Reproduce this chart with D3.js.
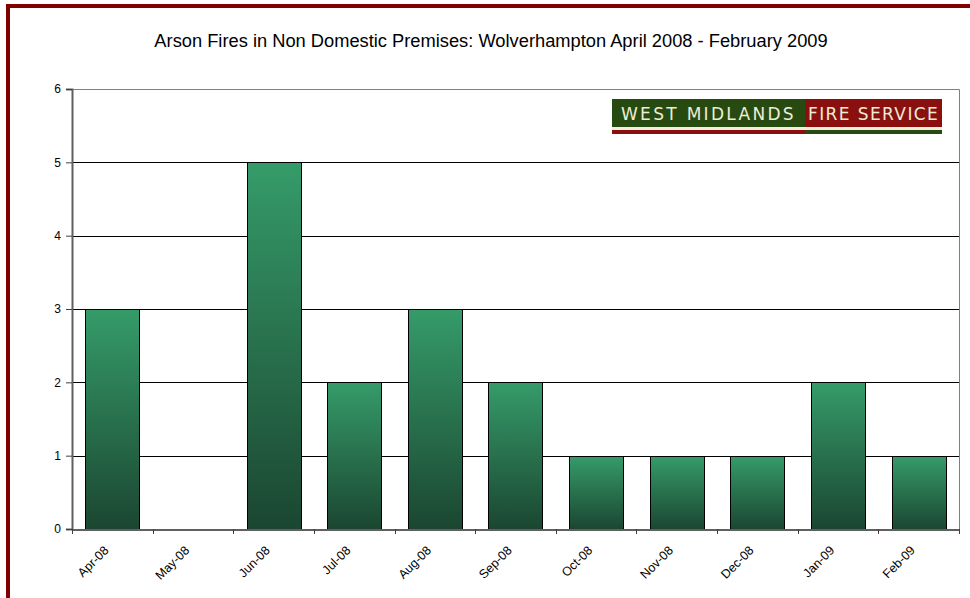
<!DOCTYPE html>
<html>
<head>
<meta charset="utf-8">
<script src="https://cdn.jsdelivr.net/npm/d3@7"></script>
<style>
  body { margin: 0; background: #fff; }
  svg text { font-family: "Liberation Sans", Arial, sans-serif; }
</style>
</head>
<body>
<div id="chart"></div>
<script>
// chart data
var months = ["Apr-08","May-08","Jun-08","Jul-08","Aug-08","Sep-08","Oct-08","Nov-08","Dec-08","Jan-09","Feb-09"];
var fires = [3, 0, 5, 2, 3, 2, 1, 1, 1, 2, 1];
var yTicks = [0, 1, 2, 3, 4, 5, 6];
var titleText = "Arson Fires in Non Domestic Premises: Wolverhampton April 2008 - February 2009";

var width = 970, height = 598;
var plotLeft = 72, plotRight = 959, plotTop = 89, plotBottom = 529;

var svg = d3.select("#chart")
  .append("svg")
  .attr("width", width)
  .attr("height", height);

// gradient for the bars
var defs = svg.append("defs");
var grad = defs.append("linearGradient")
  .attr("id", "barGrad")
  .attr("x1", 0).attr("y1", 0)
  .attr("x2", 0).attr("y2", 1);
grad.append("stop").attr("offset", "0%").attr("stop-color", "#359b69");
grad.append("stop").attr("offset", "100%").attr("stop-color", "#1b4631");

// dark red frame (only top and left show)
svg.append("rect")
  .attr("x", 8).attr("y", 6)
  .attr("width", 1200).attr("height", 1200)
  .attr("fill", "none")
  .attr("stroke", "#800000")
  .attr("stroke-width", 4);

// title
svg.append("text")
  .attr("x", 491)
  .attr("y", 47)
  .attr("text-anchor", "middle")
  .style("font-size", "18.3px")
  .style("fill", "#000")
  .text(titleText);

var x = d3.scaleBand()
  .domain(months)
  .range([plotLeft, plotRight])
  .paddingInner(0.33)
  .paddingOuter(0.165);

var y = d3.scaleLinear()
  .domain([0, 6])
  .range([plotBottom, plotTop]);

// gridlines
svg.append("g")
  .selectAll("line")
  .data(yTicks.filter(function(d) { return d > 0 && d < 6; }))
  .enter()
  .append("line")
    .attr("x1", plotLeft).attr("x2", plotRight)
    .attr("y1", function(d) { return Math.round(y(d)) + 0.5; })
    .attr("y2", function(d) { return Math.round(y(d)) + 0.5; })
    .attr("stroke", "#000")
    .attr("stroke-width", 1);

// plot border top/right
svg.append("path")
  .attr("d", "M" + plotLeft + "," + (plotTop + 0.5) + "H" + (plotRight + 0.5) + "V" + plotBottom)
  .attr("fill", "none")
  .attr("stroke", "#808080")
  .attr("stroke-width", 1);

// bars
svg.append("g")
  .selectAll("rect")
  .data(fires)
  .enter()
  .append("rect")
    .attr("x", function(d, i) { return Math.round(x(months[i])) + 0.5; })
    .attr("y", function(d) { return Math.round(y(d)) + 0.5; })
    .attr("width", Math.round(x.bandwidth()))
    .attr("height", function(d) { return Math.round(y(0)) - Math.round(y(d)); })
    .style("display", function(d) { return d === 0 ? "none" : "visible"; })
    .attr("fill", "url(#barGrad)")
    .attr("stroke", "#000")
    .attr("stroke-width", 1);

// y axis
var yAxis = d3.axisLeft(y)
  .tickValues(yTicks)
  .tickSize(6)
  .tickPadding(5)
  .tickFormat(d3.format("d"));

var gy = svg.append("g")
  .attr("transform", "translate(" + plotLeft + ",0)")
  .call(yAxis)
  .attr("font-family", null)
  .attr("font-size", null);
gy.select(".domain").attr("stroke", "#606060").attr("stroke-width", 2);
gy.selectAll(".tick line").attr("stroke", "#404040");
gy.selectAll(".tick text").style("font-size", "12px").style("fill", "#000");

// x axis line
svg.append("line")
  .attr("x1", plotLeft).attr("x2", plotRight + 1)
  .attr("y1", plotBottom + 1).attr("y2", plotBottom + 1)
  .attr("stroke", "#606060")
  .attr("stroke-width", 2);

// x ticks at band boundaries
var step = x.step();
svg.append("g")
  .selectAll("line")
  .data(d3.range(months.length + 1))
  .enter()
  .append("line")
    .attr("x1", function(i) { return Math.round(plotLeft + i * step) + 0.5; })
    .attr("x2", function(i) { return Math.round(plotLeft + i * step) + 0.5; })
    .attr("y1", plotBottom)
    .attr("y2", plotBottom + 5)
    .attr("stroke", "#404040");

// x labels rotated
svg.append("g")
  .selectAll("text")
  .data(months)
  .enter()
  .append("text")
    .attr("transform", function(d) {
      return "translate(" + (x(d) + x.bandwidth() / 2 - 6) + "," + (plotBottom + 19) + ") rotate(-45)";
    })
    .attr("text-anchor", "end")
    .attr("dy", "0.35em")
    .style("font-size", "12.5px")
    .text(function(d) { return d; });

// West Midlands Fire Service logo
var logo = svg.append("g").attr("transform", "translate(612,99)");
logo.append("rect").attr("x", 0).attr("y", 0).attr("width", 193).attr("height", 28).attr("fill", "#264a10");
logo.append("rect").attr("x", 193).attr("y", 0).attr("width", 137).attr("height", 28).attr("fill", "#8a1010");
logo.append("rect").attr("x", 0).attr("y", 28).attr("width", 330).attr("height", 3).attr("fill", "#f3eedc");
logo.append("rect").attr("x", 0).attr("y", 31).attr("width", 193).attr("height", 4).attr("fill", "#8a1010");
logo.append("rect").attr("x", 193).attr("y", 31).attr("width", 137).attr("height", 4).attr("fill", "#264a10");
logo.append("text")
  .attr("x", 9).attr("y", 21)
  .style("font-family", "'DejaVu Sans', sans-serif")
  .style("font-size", "17px")
  .style("letter-spacing", "2.3px")
  .style("fill", "#efecd6")
  .text("WEST MIDLANDS");
logo.append("text")
  .attr("x", 196).attr("y", 21)
  .style("font-family", "'DejaVu Sans', sans-serif")
  .style("font-size", "17px")
  .style("letter-spacing", "1.4px")
  .style("fill", "#efecd6")
  .text("FIRE SERVICE");
</script>
</body>
</html>
